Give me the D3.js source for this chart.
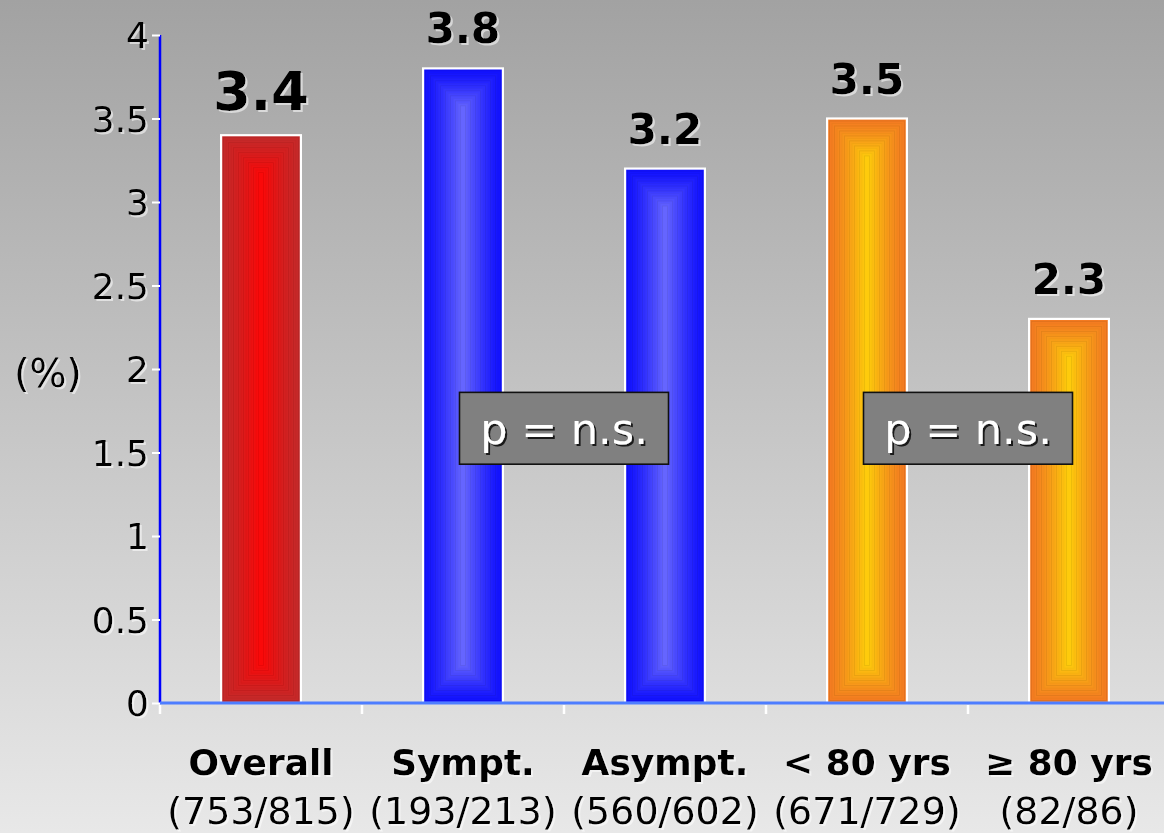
<!DOCTYPE html>
<html>
<head>
<meta charset="utf-8">
<script src="https://cdn.jsdelivr.net/npm/d3@7"></script>
<style>
  html, body { margin: 0; padding: 0; }
  body { width: 1164px; height: 833px; overflow: hidden; }
  svg { display: block; font-family: "DejaVu Sans", Verdana, sans-serif; }
</style>
</head>
<body>
<svg id="chart" width="1164" height="833"></svg>
<script>
// Event rates (%) by subgroup
const categories = ["Overall", "Sympt.", "Asympt.", "< 80 yrs", "\u2265 80 yrs"];
const counts = ["(753/815)", "(193/213)", "(560/602)", "(671/729)", "(82/86)"];
const values = [3.4, 3.8, 3.2, 3.5, 2.3];
const groups = ["overall", "symptoms", "symptoms", "age", "age"];
const yTicks = [0, 0.5, 1, 1.5, 2, 2.5, 3, 3.5, 4];
const yLabel = "(%)";
// Significance boxes: centred on the boundary before `right`, spanning a value range
const pBoxes = [
  { right: "Asympt.", text: "p = n.s.", top: 1.86, bottom: 1.43 },
  { right: "\u2265 80 yrs", text: "p = n.s.", top: 1.86, bottom: 1.43 }
];

const palette = {
  overall:  { edge: "#c42a2a", center: "#ff0606" },
  symptoms: { edge: "#1010ff", center: "#6c6cff" },
  age:      { edge: "#f47a22", center: "#ffd20a" }
};

const W = 1164, H = 833;
const svg = d3.select("#chart");
const defs = svg.append("defs");

// Background fade
const bg = defs.append("linearGradient").attr("id", "bg")
  .attr("x1", 0).attr("y1", 0).attr("x2", 0).attr("y2", 1);
bg.append("stop").attr("offset", 0).attr("stop-color", "#a2a2a2");
bg.append("stop").attr("offset", 1).attr("stop-color", "#e8e8e8");
svg.append("rect").attr("width", W).attr("height", H).attr("fill", "url(#bg)");

// Soft text shadows
const lightShadow = defs.append("filter").attr("id", "lightShadow")
  .attr("x", "-10%").attr("y", "-10%").attr("width", "130%").attr("height", "130%");
lightShadow.append("feDropShadow").attr("dx", 2).attr("dy", 2).attr("stdDeviation", 0.6)
  .attr("flood-color", "#ffffff").attr("flood-opacity", 0.55);
const darkShadow = defs.append("filter").attr("id", "darkShadow")
  .attr("x", "-10%").attr("y", "-10%").attr("width", "130%").attr("height", "130%");
darkShadow.append("feDropShadow").attr("dx", 2).attr("dy", 2).attr("stdDeviation", 0.5)
  .attr("flood-color", "#000000").attr("flood-opacity", 0.8);

const x = d3.scaleBand().domain(categories).range([160, 1170]).padding(0);
const y = d3.scaleLinear().domain([0, 4]).range([703, 35]);
const barW = x.bandwidth() * 0.395;

// Bars with a stepped rectangular gradient (nested rectangles)
const bars = svg.append("g").selectAll("g.bar")
  .data(categories.map((c, i) => ({ c, v: values[i], g: groups[i] })))
  .join("g").attr("class", "bar");

const steps = 16;
bars.each(function (d) {
  const g = d3.select(this);
  const x0 = x(d.c) + (x.bandwidth() - barW) / 2;
  const y0 = y(d.v);
  const h = y(0) - y0;
  const col = d3.interpolateRgb(palette[d.g].edge, palette[d.g].center);
  for (let k = 0; k <= steps; k++) {
    const inset = (barW / 2) * k / steps;
    const w = barW - 2 * inset;
    const hh = h - 2 * inset;
    if (w <= 0.3 || hh <= 0) continue;
    const t = Math.pow(k / steps, 1.3);
    const c = d3.color(col(t));
    g.append("rect")
      .attr("x", x0 + inset).attr("y", y0 + inset)
      .attr("width", Math.max(w, 1.5)).attr("height", hh)
      .attr("fill", c.formatHex())
      .attr("stroke", c.darker(k % 2 ? 0.25 : 0.1).formatHex())
      .attr("stroke-width", 0.8);
  }
  g.append("rect")
    .attr("x", x0).attr("y", y0).attr("width", barW).attr("height", h)
    .attr("fill", "none").attr("stroke", "#ffffff").attr("stroke-width", 2.2);
});

// Value labels
svg.append("g").selectAll("text")
  .data(categories.map((c, i) => ({ c, v: values[i], i })))
  .join("text")
  .attr("x", d => x(d.c) + x.bandwidth() / 2)
  .attr("y", d => y(d.v) - 25)
  .attr("text-anchor", "middle")
  .attr("font-weight", "bold")
  .attr("font-size", d => d.i === 0 ? 54 : 42)
  .attr("fill", "#000")
  .attr("filter", "url(#lightShadow)")
  .text(d => d3.format(".1f")(d.v));

// Y axis
const yAxis = svg.append("g").attr("transform", "translate(160,0)")
  .call(d3.axisLeft(y).tickValues(yTicks).tickSize(8).tickPadding(3)
    .tickFormat(d => String(d)));
yAxis.select(".domain").attr("stroke", "#0000ff").attr("stroke-width", 2.5)
  .attr("d", `M0,${y(4)}V${y(0)}`);
yAxis.selectAll(".tick line").attr("stroke", "#ffffff").attr("stroke-width", 2);
yAxis.selectAll(".tick text")
  .attr("font-size", 36).attr("fill", "#000").attr("font-family", "DejaVu Sans")
  .attr("dy", "0.36em").attr("filter", "url(#lightShadow)");

// X axis
const xAxis = svg.append("g").attr("transform", `translate(0,${y(0)})`);
xAxis.append("line").attr("x1", 160).attr("x2", W)
  .attr("stroke", "#4d7dff").attr("stroke-width", 3);
xAxis.selectAll("line.tick")
  .data(categories)
  .join("line").attr("class", "tick")
  .attr("x1", d => x(d)).attr("x2", d => x(d))
  .attr("y1", 2).attr("y2", 11)
  .attr("stroke", "#ffffff").attr("stroke-width", 2.5);

// Category labels
const catG = svg.append("g");
catG.selectAll("text.cat")
  .data(categories).join("text").attr("class", "cat")
  .attr("x", d => x(d) + x.bandwidth() / 2)
  .attr("y", 775)
  .attr("text-anchor", "middle").attr("font-weight", "bold").attr("font-size", 36)
  .attr("fill", "#000").attr("filter", "url(#lightShadow)")
  .text(d => d);
catG.selectAll("text.n")
  .data(categories.map((c, i) => ({ c, n: counts[i] }))).join("text").attr("class", "n")
  .attr("x", d => x(d.c) + x.bandwidth() / 2)
  .attr("y", 824)
  .attr("text-anchor", "middle").attr("font-size", 38)
  .attr("fill", "#000").attr("filter", "url(#lightShadow)")
  .text(d => d.n);

// Y label
svg.append("text").attr("x", 48).attr("y", 373).attr("dy", "0.36em")
  .attr("text-anchor", "middle").attr("font-size", 39).attr("fill", "#000")
  .attr("filter", "url(#lightShadow)")
  .text(yLabel);

// Significance boxes
const pG = svg.append("g").selectAll("g")
  .data(pBoxes).join("g");
const boxW = 209;
pG.append("rect")
  .attr("x", d => x(d.right) - boxW / 2)
  .attr("y", d => y(d.top))
  .attr("width", boxW)
  .attr("height", d => y(d.bottom) - y(d.top))
  .attr("fill", "#808080").attr("stroke", "#111").attr("stroke-width", 1.6);
pG.append("text")
  .attr("x", d => x(d.right))
  .attr("y", d => (y(d.top) + y(d.bottom)) / 2)
  .attr("dy", "0.36em")
  .attr("text-anchor", "middle").attr("font-size", 43).attr("fill", "#ffffff")
  .attr("filter", "url(#darkShadow)")
  .text(d => d.text);
</script>
</body>
</html>
